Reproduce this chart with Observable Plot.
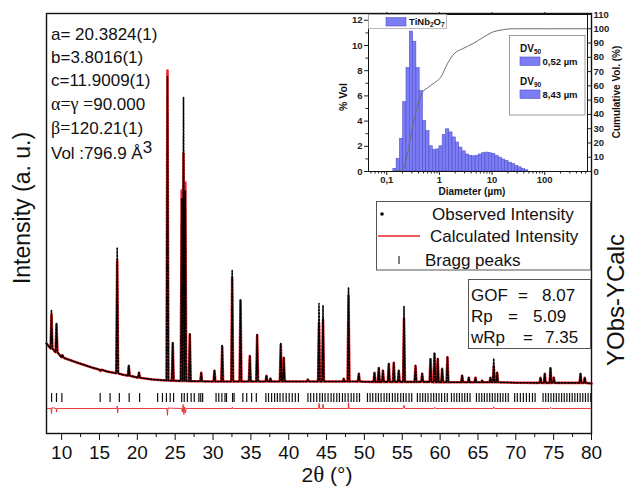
<!DOCTYPE html>
<html><head><meta charset="utf-8">
<script src="https://cdn.jsdelivr.net/npm/d3@7"></script>
<script src="https://cdn.jsdelivr.net/npm/@observablehq/plot@0.6"></script>
<style>
body{margin:0;background:#fff;}
#wrap{position:relative;width:628px;height:488px;overflow:hidden;background:#fff;}
#wrap svg{position:absolute;left:0;top:0;}
</style></head><body><div id="wrap"></div>
<script>
// ---------- main XRD pattern data (2θ in degrees, intensity in arbitrary units) ----------
const bgPos = [8.0, 9.0, 10.5, 12, 14, 16, 18, 20, 22, 24.3, 30, 40, 50, 60, 70, 80];
const bgVal = [2175, 2000, 1800, 1700, 1575, 1475, 1400, 1325, 1275, 1250, 1225, 1225, 1220, 1205, 1195, 1175];

const peakPos  = [8.66, 9.32, 10.10, 15.13, 17.34, 18.87, 20.22, 23.98, 24.68, 25.86, 26.10, 26.34, 26.93, 28.44, 30.19, 31.21, 32.53, 33.63, 34.86, 35.83, 37.06, 37.59, 38.95, 39.35, 42.52, 44.00, 44.53, 47.27, 47.90, 49.26, 51.33, 51.90, 52.45, 53.22, 53.88, 54.54, 55.23, 56.75, 57.63, 58.73, 59.26, 59.69, 60.27, 60.97, 62.91, 63.79, 64.67, 65.56, 66.65, 67.09, 67.54, 73.26, 73.83, 74.58, 75.02, 78.55, 79.11];
const peakObs  = [3000, 2675, 1900, 1500, 4575, 1625, 1450, 8850, 2200, 5800, 8325, 6000, 2425, 1450, 1500, 2125, 4000, 3275, 1875, 2400, 1375, 1300, 2175, 1825, 1275, 3175, 3125, 1300, 3575, 1425, 1450, 1575, 1500, 1675, 1700, 1500, 3100, 1625, 1425, 1800, 1950, 1800, 1550, 1850, 1375, 1325, 1325, 1250, 1325, 1800, 1450, 1325, 1425, 1575, 1325, 1425, 1325];
const peakCalc = [2900, 2650, 1880, 1490, 4250, 1610, 1440, 9000, 2180, 6000, 6925, 6200, 2400, 1440, 1490, 2100, 3825, 3250, 1860, 2380, 1370, 1295, 2150, 1810, 1270, 2700, 2775, 1290, 3375, 1415, 1440, 1560, 1490, 1660, 1690, 1490, 2800, 1610, 1415, 1780, 1920, 1780, 1540, 1830, 1370, 1320, 1320, 1245, 1320, 1600, 1440, 1320, 1415, 1550, 1320, 1410, 1320];
const peakBase = [2050, 1960, 1830, 1520, 1430, 1370, 1320, 1250, 1245, 1240, 1240, 1240, 1235, 1230, 1225, 1225, 1225, 1225, 1225, 1225, 1225, 1225, 1225, 1225, 1225, 1225, 1225, 1225, 1225, 1225, 1215, 1215, 1215, 1215, 1215, 1215, 1215, 1215, 1215, 1215, 1205, 1205, 1205, 1205, 1205, 1205, 1205, 1205, 1205, 1205, 1205, 1190, 1190, 1190, 1190, 1190, 1190];

const braggPos = [8.67, 9.32, 10.03, 15.09, 16.40, 17.62, 18.92, 20.30, 22.68, 23.32, 23.84, 24.34, 24.79, 25.86, 26.20, 26.61, 27.11, 27.52, 28.13, 28.38, 28.63, 30.40, 30.76, 31.17, 31.58, 31.78, 32.58, 32.78, 33.94, 34.45, 35.10, 35.72, 36.98, 37.33, 37.74, 38.14, 38.50, 38.85, 39.25, 39.66, 40.06, 40.47, 40.87, 41.28, 42.54, 42.90, 43.30, 43.70, 44.10, 44.45, 44.80, 45.20, 45.60, 45.95, 46.35, 46.70, 47.10, 47.45, 47.85, 48.25, 48.60, 49.00, 49.35, 50.40, 50.75, 51.10, 51.50, 51.85, 52.20, 52.60, 52.95, 53.30, 53.70, 54.05, 54.40, 54.80, 55.15, 55.50, 55.90, 56.25, 57.00, 57.35, 57.70, 58.05, 58.40, 58.80, 59.15, 59.50, 59.85, 60.20, 60.60, 60.95, 61.50, 61.85, 62.20, 62.55, 62.90, 63.25, 63.60, 63.95, 64.80, 65.15, 65.50, 65.85, 66.20, 66.55, 66.90, 67.25, 67.60, 67.95, 68.30, 68.65, 69.00, 69.85, 70.20, 70.60, 71.00, 71.40, 71.80, 72.20, 72.55, 73.60, 73.95, 74.30, 74.65, 75.00, 75.35, 75.70, 76.05, 76.40, 76.75, 77.10, 77.45, 77.80, 78.15, 78.50, 78.85, 79.20, 79.55, 79.90];

const diffPos = [8.0, 8.6, 8.66, 8.72, 9.28, 9.32, 9.38, 17.28, 17.34, 17.40, 17.48, 23.92, 23.98, 24.05, 25.85, 25.95, 26.05, 26.15, 26.25, 26.35, 26.45, 32.50, 32.55, 32.60, 43.95, 44.00, 44.10, 44.48, 44.53, 44.60, 47.85, 47.90, 47.97, 55.10, 55.23, 55.35, 59.20, 59.30, 59.40, 67.00, 67.09, 67.20, 74.50, 74.60, 74.70, 80.0];
const diffVal = [0, 0, -130, 20, 0, -90, 0, 0, 60, -110, 0, 0, -170, 10, 0, -90, 100, -150, 40, -110, 0, 0, 30, 0, 0, 130, 0, 0, 110, 0, 0, 140, 0, 0, 80, 0, 0, 30, 0, 0, 40, 0, 0, 25, 0, 0];

const xMajor = [10, 15, 20, 25, 30, 35, 40, 45, 50, 55, 60, 65, 70, 75, 80];
const xMinor = [12.5, 17.5, 22.5, 27.5, 32.5, 37.5, 42.5, 47.5, 52.5, 57.5, 62.5, 67.5, 72.5, 77.5];

// ---------- inset: particle size distribution ----------
const sizeEdges = [0.1334, 0.1540, 0.1778, 0.2054, 0.2371, 0.2738, 0.3162, 0.3652, 0.4217, 0.4870, 0.5623, 0.6494, 0.7499, 0.8660, 1.000, 1.155, 1.334, 1.540, 1.778, 2.054, 2.371, 2.738, 3.162, 3.652, 4.217, 4.870, 5.623, 6.494, 7.499, 8.660, 10.00, 11.55, 13.34, 15.40, 17.78, 20.54, 23.71, 27.38, 31.62, 36.52, 42.17, 48.70];
const volPct = [0.2, 1.0, 2.6, 5.5, 8.2, 11.1, 10.3, 8.2, 6.4, 4.0, 3.2, 2.0, 1.7, 1.75, 2.0, 2.9, 3.35, 3.1, 2.7, 2.3, 1.9, 1.6, 1.35, 1.25, 1.2, 1.25, 1.35, 1.45, 1.5, 1.45, 1.4, 1.25, 1.1, 0.95, 0.85, 0.7, 0.6, 0.45, 0.33, 0.2, 0.1];
const cumSize = [0.13, 0.185, 0.247, 0.308, 0.383, 0.476, 0.594, 0.795, 1.06, 1.42, 1.9, 2.75, 4.3, 6.6, 10.2, 15.8, 24.3, 650];
const cumPct  = [0, 0.7, 12, 31, 46, 55.5, 58.6, 62, 66, 75.5, 82.5, 86, 89.5, 93.7, 97.6, 99.3, 100, 100];
const insetLeftTicks = [0, 2, 4, 6, 8, 10, 12];
const insetRightTicks = [0, 10, 20, 30, 40, 50, 60, 70, 80, 90, 100, 110];
const insetXTicks = [0.1, 1, 10, 100];
const insetXTickLabels = ["0,1", "1", "10", "100"];

// ---------- text ----------
const cellLines = ["a= 20.3824(1)", "b=3.8016(1)", "c=11.9009(1)"];
const statNames = ["GOF", "Rp", "wRp"];
const statVals = ["8.07", "5.09", "7.35"];

const W = 628, H = 488;
const SANS = "'Liberation Sans', Arial, sans-serif";
const SERIF = "'Liberation Serif', 'Times New Roman', serif";
const RED = "#e8262b";
const BLUE = "#7c7cf3", BLUE_EDGE = "#5050d2";

// build profiles
const HW = 0.12;
function profile(tops) {
  const pts = [];
  bgPos.forEach((x, i) => { if (!peakPos.some(p => Math.abs(p - x) <= HW + 1e-6)) pts.push({x, y: bgVal[i]}); });
  peakPos.forEach((p, i) => {
    pts.push({x: p - HW, y: peakBase[i]}, {x: p, y: tops[i]}, {x: p + HW, y: peakBase[i]});
  });
  return pts.sort((a, b) => a.x - b.x);
}
const obsPts = profile(peakObs);
const calcPts = profile(peakCalc);
const diffPts = diffPos.map((x, i) => ({x, v: diffVal[i]}));
const BRAGG_LO = 700, BRAGG_HI = 925, DIFF_OFFSET = 550;

const wrap = document.getElementById("wrap");

const main = Plot.plot({
  width: W, height: H,
  marginLeft: 46, marginRight: 37, marginTop: 13, marginBottom: 55,
  style: {fontFamily: SANS, fontSize: "19px", color: "#111", background: "white", overflow: "visible"},
  x: {domain: [8, 80]},
  y: {domain: [-75, 10425], axis: null},
  marks: [
    Plot.ruleX(braggPos, {x: d => d, y1: BRAGG_LO, y2: BRAGG_HI, stroke: "#111", strokeWidth: 1.2}),
    Plot.line(diffPts, {x: "x", y: d => DIFF_OFFSET + d.v, stroke: RED, strokeWidth: 0.9}),
    Plot.line(calcPts, {x: "x", y: "y", stroke: RED, strokeWidth: 2.6}),
    Plot.line(obsPts, {x: "x", y: "y", stroke: "#000", strokeWidth: 1.6, strokeDasharray: "1.6,1.7"}),
    Plot.axisX(xMajor, {tickSize: 7, tickPadding: 5, fontSize: 19, label: null}),
    Plot.axisX(xMinor, {tickSize: 4, tickFormat: () => "", label: null}),
    Plot.frame({stroke: "#111", strokeWidth: 1.4})
  ]
});
wrap.appendChild(main);

const F = 12.46 / 110;
const bins = volPct.map((v, i) => ({lo: sizeEdges[i], hi: sizeEdges[i + 1], v}));
const cum = cumSize.map((d, i) => ({d, c: cumPct[i]}));
const logMinor = [];
[0.01, 0.1, 1, 10, 100].forEach(dec => { for (let m = 2; m <= 9; m++) { const v = dec * m; if (v > 0.045 && v < 650) logMinor.push(v); } });

const inset = Plot.plot({
  width: W, height: H,
  marginLeft: 368, marginRight: 41, marginTop: 14, marginBottom: 317,
  style: {fontFamily: SANS, fontSize: "9.5px", fontWeight: "bold", color: "#222", background: "transparent", overflow: "visible"},
  x: {type: "log", domain: [0.045, 650]},
  y: {domain: [0, 12.46]},
  marks: [
    Plot.rect(bins, {x1: "lo", x2: "hi", y1: () => 0, y2: "v", fill: BLUE, stroke: BLUE_EDGE, strokeWidth: 0.6}),
    Plot.line(cum, {x: "d", y: d => d.c * F, stroke: "#6d6d6d", strokeWidth: 1, curve: "monotone-x"}),
    Plot.axisX(insetXTicks, {tickSize: 4, tickPadding: 1, tickFormat: d => insetXTickLabels[insetXTicks.indexOf(d)], label: null}),
    Plot.axisX(logMinor, {tickSize: 2.5, tickFormat: () => "", label: null}),
    Plot.axisX(insetXTicks, {anchor: "top", tickSize: 3, tickFormat: () => "", label: null}),
    Plot.axisX(logMinor, {anchor: "top", tickSize: 2, tickFormat: () => "", label: null}),
    Plot.axisY(insetLeftTicks, {tickSize: 4, tickPadding: 2, label: null}),
    Plot.axisY([1, 3, 5, 7, 9, 11], {tickSize: 2.5, tickFormat: () => "", label: null}),
    Plot.axisY(insetRightTicks.map(v => v * F), {anchor: "right", tickSize: 4, tickPadding: 2, tickFormat: d => String(Math.round(d / F)), label: null}),
    Plot.frame({stroke: "#111", strokeWidth: 1})
  ]
});
wrap.appendChild(inset);

// ---------- overlay: annotations, legends ----------
const ov = d3.select(wrap).append("svg").attr("width", W).attr("height", H)
  .style("font-family", SANS).style("fill", "#111");

// lattice parameters
const cellBase = [40, 63, 86];
cellLines.forEach((t, i) => ov.append("text").attr("x", 51).attr("y", cellBase[i]).attr("font-size", 17).text(t));
const t4 = ov.append("text").attr("x", 51).attr("y", 110).attr("font-size", 17);
t4.append("tspan").attr("font-family", SERIF).attr("font-size", 18).text("α=γ =");
t4.append("tspan").text("90.000");
const t5 = ov.append("text").attr("x", 51).attr("y", 134).attr("font-size", 17);
t5.append("tspan").attr("font-family", SERIF).attr("font-size", 18).text("β=");
t5.append("tspan").text("120.21(1)");
const t6 = ov.append("text").attr("x", 51).attr("y", 159).attr("font-size", 17);
t6.append("tspan").text("Vol :796.9 Å");
t6.append("tspan").attr("dy", -6).text("3");

// axis titles
ov.append("text").attr("transform", "translate(30,208) rotate(-90)").attr("text-anchor", "middle")
  .attr("font-size", 23).text("Intensity (a. u.)");
const xt = ov.append("text").attr("x", 327).attr("y", 482).attr("text-anchor", "middle").attr("font-size", 21);
xt.append("tspan").text("2");
xt.append("tspan").attr("font-family", SERIF).attr("font-size", 23).text("θ");
xt.append("tspan").text(" (°)");
ov.append("text").attr("transform", "translate(624,300) rotate(-90)").attr("text-anchor", "middle")
  .attr("font-size", 24).text("YObs-YCalc");

// legend box
ov.append("rect").attr("x", 376.5).attr("y", 201.5).attr("width", 214).attr("height", 68.5)
  .attr("fill", "white").attr("stroke", "#555").attr("stroke-width", 1);
ov.append("circle").attr("cx", 382).attr("cy", 214).attr("r", 1.8).attr("fill", "#000");
ov.append("text").attr("x", 432).attr("y", 220).attr("font-size", 17).text("Observed Intensity");
ov.append("line").attr("x1", 378).attr("x2", 420).attr("y1", 236).attr("y2", 236).attr("stroke", RED).attr("stroke-width", 1.3);
ov.append("text").attr("x", 430).attr("y", 242).attr("font-size", 17).text("Calculated Intensity");
ov.append("line").attr("x1", 399).attr("x2", 399).attr("y1", 256).attr("y2", 264).attr("stroke", "#000").attr("stroke-width", 1);
ov.append("text").attr("x", 425).attr("y", 266).attr("font-size", 17).text("Bragg peaks");

// stats box
ov.append("rect").attr("x", 468.5).attr("y", 279.5).attr("width", 122).attr("height", 69)
  .attr("fill", "white").attr("stroke", "#555").attr("stroke-width", 1);
const statBase = [301, 322, 343];
const eqX = [523, 513, 528];
const valX = [542, 533, 545];
statNames.forEach((n, i) => {
  ov.append("text").attr("x", 471).attr("y", statBase[i]).attr("font-size", 17).text(n);
  ov.append("text").attr("x", eqX[i]).attr("y", statBase[i]).attr("font-size", 17).attr("text-anchor", "middle").text("=");
  ov.append("text").attr("x", valX[i]).attr("y", statBase[i]).attr("font-size", 17).text(statVals[i]);
});

// inset legend: TiNb2O7
ov.append("rect").attr("x", 368.5).attr("y", 14.5).attr("width", 78).attr("height", 14)
  .attr("fill", "white").attr("stroke", "#aaa").attr("stroke-width", 0.8);
ov.append("rect").attr("x", 386).attr("y", 17.5).attr("width", 20).attr("height", 8.5).attr("fill", BLUE).attr("stroke", BLUE_EDGE).attr("stroke-width", 0.6);
const tn = ov.append("text").attr("x", 409).attr("y", 25).attr("font-size", 9.5).attr("font-weight", "bold");
tn.append("tspan").text("TiNb");
tn.append("tspan").attr("font-size", 6.5).attr("dy", 2).text("2");
tn.append("tspan").attr("dy", -2).text("O");
tn.append("tspan").attr("font-size", 6.5).attr("dy", 2).text("7");

// DV box
ov.append("rect").attr("x", 509.5).attr("y", 35.5).attr("width", 75.5).attr("height", 79.5)
  .attr("fill", "white").attr("stroke", "#888").attr("stroke-width", 0.8);
const dvSub = ["50", "90"], dvVal = ["0,52 µm", "8,43 µm"], dvY = [52, 85];
dvSub.forEach((s, i) => {
  const t = ov.append("text").attr("x", 520).attr("y", dvY[i]).attr("font-size", 10).attr("font-weight", "bold");
  t.append("tspan").text("DV");
  t.append("tspan").attr("font-size", 6.5).attr("dy", 2).text(s);
  ov.append("rect").attr("x", 520).attr("y", dvY[i] + 5).attr("width", 20).attr("height", 8.5).attr("fill", BLUE).attr("stroke", BLUE_EDGE).attr("stroke-width", 0.6);
  ov.append("text").attr("x", 542.5).attr("y", dvY[i] + 12.5).attr("font-size", 9.5).attr("font-weight", "bold").text(dvVal[i]);
});

// inset axis titles
ov.append("text").attr("transform", "translate(347,97) rotate(-90)").attr("text-anchor", "middle")
  .attr("font-size", 10.5).attr("font-weight", "bold").text("% Vol");
ov.append("text").attr("transform", "translate(620,92) rotate(-90)").attr("text-anchor", "middle")
  .attr("font-size", 10).attr("font-weight", "bold").text("Cumulative Vol. (%)");
ov.append("text").attr("x", 472).attr("y", 195).attr("text-anchor", "middle")
  .attr("font-size", 10).attr("font-weight", "bold").text("Diameter (µm)");
</script></body></html>
